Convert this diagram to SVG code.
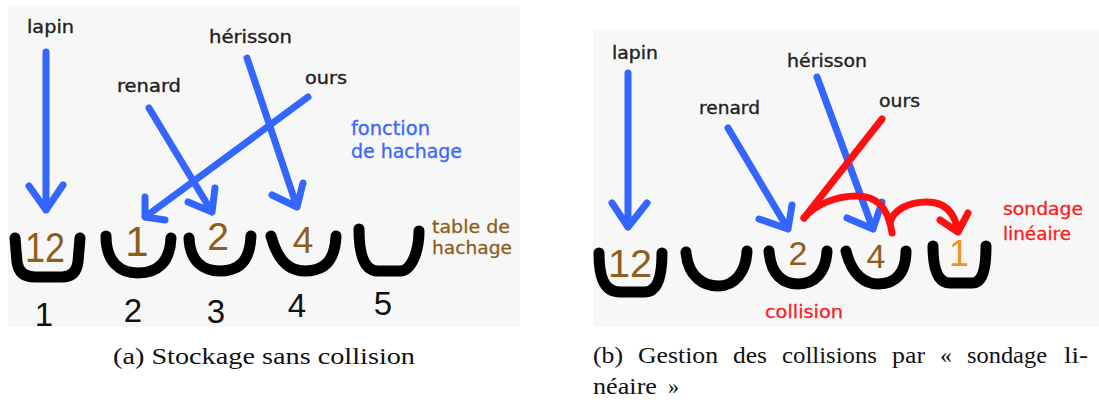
<svg xmlns="http://www.w3.org/2000/svg" width="1099" height="405" viewBox="0 0 1099 405">
<style>
.bg{fill:#f7f7f7}
.lbl{font-family:"DejaVu Sans","Liberation Sans",sans-serif;font-size:17px;fill:#222;stroke:#222;stroke-width:0.35}
.blue{font-family:"DejaVu Sans","Liberation Sans",sans-serif;font-size:19px;fill:#3b68ff;stroke:#3b68ff;stroke-width:0.3}
.brownl{font-family:"DejaVu Sans","Liberation Sans",sans-serif;font-size:18px;fill:#8d5d1d;stroke:#8d5d1d;stroke-width:0.3}
.redl{font-family:"DejaVu Sans","Liberation Sans",sans-serif;font-size:18px;fill:#ff1a1a;stroke:#ff1a1a;stroke-width:0.3}
.dig{font-family:"Liberation Sans","DejaVu Sans",sans-serif;fill:#8d5d1d;text-anchor:middle}
.idx{font-family:"Liberation Sans","DejaVu Sans",sans-serif;font-size:33px;fill:#111;text-anchor:middle}
.cap{font-family:"Liberation Serif","DejaVu Serif",serif;font-size:23px;fill:#111}
.bucket{fill:none;stroke:#000;stroke-width:11;stroke-linecap:round;stroke-linejoin:round}
.ab{fill:none;stroke:#3366ff;stroke-width:7;stroke-linecap:round;stroke-linejoin:round}
.ar{fill:none;stroke:#ff1010;stroke-width:7;stroke-linecap:round;stroke-linejoin:round}
</style>
<defs>
<clipPath id="clipA"><rect x="8" y="6" width="512" height="321"/></clipPath>
<clipPath id="clipB"><rect x="593" y="30" width="506" height="297"/></clipPath>
</defs>

<g id="panel-a" clip-path="url(#clipA)">
<rect class="bg" x="8" y="6" width="512" height="321"/>
<g id="a-labels">
<text class="lbl" x="27" y="33" textLength="47" lengthAdjust="spacingAndGlyphs">lapin</text>
<text class="lbl" x="209" y="43" textLength="83" lengthAdjust="spacingAndGlyphs">hérisson</text>
<text class="lbl" x="117" y="92" textLength="64" lengthAdjust="spacingAndGlyphs">renard</text>
<text class="lbl" x="305" y="84" textLength="42" lengthAdjust="spacingAndGlyphs">ours</text>
<text class="blue" x="351" y="135" textLength="79" lengthAdjust="spacingAndGlyphs">fonction</text>
<text class="blue" x="351" y="158" textLength="111" lengthAdjust="spacingAndGlyphs">de hachage</text>
<text class="brownl" x="432" y="233" textLength="78" lengthAdjust="spacingAndGlyphs">table de</text>
<text class="brownl" x="432" y="254" textLength="80" lengthAdjust="spacingAndGlyphs">hachage</text>
</g>
<g id="a-connectors">
<path class="ab" d="M46,52 L46,210 M29,186 L46,210 L63,185"/>
<path class="ab" d="M149,108 L212,212 M188,202 L212,212 L215,188"/>
<path class="ab" d="M247,58 L297,207 M272,195 L297,207 L303,183"/>
<path class="ab" d="M308,97 L145,217 M145,197 L145,217 L165,220"/>
</g>
<g id="a-bucket1"><path class="bucket" d="M15,238 L17,262 Q19,277 35,277 L62,277 Q76,277 78,262 L80,238"/><text class="dig" x="45" y="262" font-size="42" textLength="40" lengthAdjust="spacingAndGlyphs">12</text><text class="idx" x="44" y="326">1</text></g>
<g id="a-bucket2"><path class="bucket" d="M106,236 C106,262 120,273 138,273 C158,273 170,262 171,238"/><text class="dig" x="137" y="256" font-size="42">1</text><text class="idx" x="133" y="322">2</text></g>
<g id="a-bucket3"><path class="bucket" d="M189,238 C190,262 204,271 220,271 C240,271 250,260 251,236"/><text class="dig" x="218" y="250" font-size="39">2</text><text class="idx" x="216" y="323">3</text></g>
<g id="a-bucket4"><path class="bucket" d="M271,236 C278,262 290,271 305,271 C325,271 335,260 336,236"/><text class="dig" x="303" y="253" font-size="37">4</text><text class="idx" x="297" y="317">4</text></g>
<g id="a-bucket5"><path class="bucket" d="M359,229 C359,250 362,271 378,271 L400,271 C412,271 419,250 419,231"/><text class="idx" x="383" y="315">5</text></g>
</g>

<g id="panel-b" clip-path="url(#clipB)">
<rect class="bg" x="593" y="30" width="506" height="297"/>
<g id="b-labels">
<text class="lbl" x="612" y="59" textLength="46" lengthAdjust="spacingAndGlyphs">lapin</text>
<text class="lbl" x="787" y="67" textLength="80" lengthAdjust="spacingAndGlyphs">hérisson</text>
<text class="lbl" x="699" y="114" textLength="61" lengthAdjust="spacingAndGlyphs">renard</text>
<text class="lbl" x="879" y="107" textLength="41" lengthAdjust="spacingAndGlyphs">ours</text>
<text class="redl" x="765" y="318" textLength="78" lengthAdjust="spacingAndGlyphs">collision</text>
<text class="redl" x="1003" y="215" textLength="80" lengthAdjust="spacingAndGlyphs">sondage</text>
<text class="redl" x="1003" y="240" textLength="68" lengthAdjust="spacingAndGlyphs">linéaire</text>
</g>
<g id="b-connectors">
<path class="ab" d="M628,73 L628,227 M612,203 L628,227 L647,203"/>
<path class="ab" d="M728,128 L788,229 M759,219 L788,229 L792,205"/>
<path class="ab" d="M817,77 L873,229 M847,218 L873,229 L882,202"/>
<path class="ar" d="M882,119 L804,218"/>
<path class="ar" d="M804,218 C815,205 835,196 857,196 C875,196 888,205 892,233"/>
<path class="ar" d="M890,223 C893,210 908,202 927,202 C945,202 955,212 958,232 M940,220 L958,232 L968,213"/>
</g>
<g id="b-bucket1"><path class="bucket" d="M599,253 C599,275 603,292 620,292 L645,292 C658,292 662,275 662,253"/><text class="dig" x="630" y="277" font-size="38" textLength="44" lengthAdjust="spacingAndGlyphs">12</text></g>
<g id="b-bucket2"><path class="bucket" d="M686,252 C688,278 705,286 718,286 C735,286 746,272 747,251"/></g>
<g id="b-bucket3"><path class="bucket" d="M769,251 C771,276 784,284 798,284 C815,284 826,272 827,251"/><text class="dig" x="798" y="265" font-size="34">2</text></g>
<g id="b-bucket4"><path class="bucket" d="M846,251 C852,276 866,284 878,284 C897,284 906,272 906,251"/><text class="dig" x="876" y="268" font-size="34">4</text></g>
<g id="b-bucket5"><path class="bucket" d="M933,246 C933,268 937,283 950,283 L972,283 C983,283 986,268 986,246"/><text class="dig" x="959" y="266" font-size="36" style="fill:#f39020">1</text></g>
</g>

<g id="captions">
<text class="cap" x="113" y="364" textLength="302" lengthAdjust="spacingAndGlyphs">(a) Stockage sans collision</text>
<text class="cap" y="363"><tspan x="593" textLength="30" lengthAdjust="spacingAndGlyphs">(b)</tspan><tspan x="638" textLength="80" lengthAdjust="spacingAndGlyphs">Gestion</tspan><tspan x="733" textLength="34" lengthAdjust="spacingAndGlyphs">des</tspan><tspan x="782" textLength="95" lengthAdjust="spacingAndGlyphs">collisions</tspan><tspan x="892" textLength="33" lengthAdjust="spacingAndGlyphs">par</tspan><tspan x="940" textLength="12" lengthAdjust="spacingAndGlyphs">«</tspan><tspan x="967" textLength="80" lengthAdjust="spacingAndGlyphs">sondage</tspan><tspan x="1064" textLength="24" lengthAdjust="spacingAndGlyphs">li-</tspan></text>
<text class="cap" y="394"><tspan x="593" textLength="64" lengthAdjust="spacingAndGlyphs">néaire</tspan><tspan x="668" textLength="11" lengthAdjust="spacingAndGlyphs">»</tspan></text>
</g>
</svg>
